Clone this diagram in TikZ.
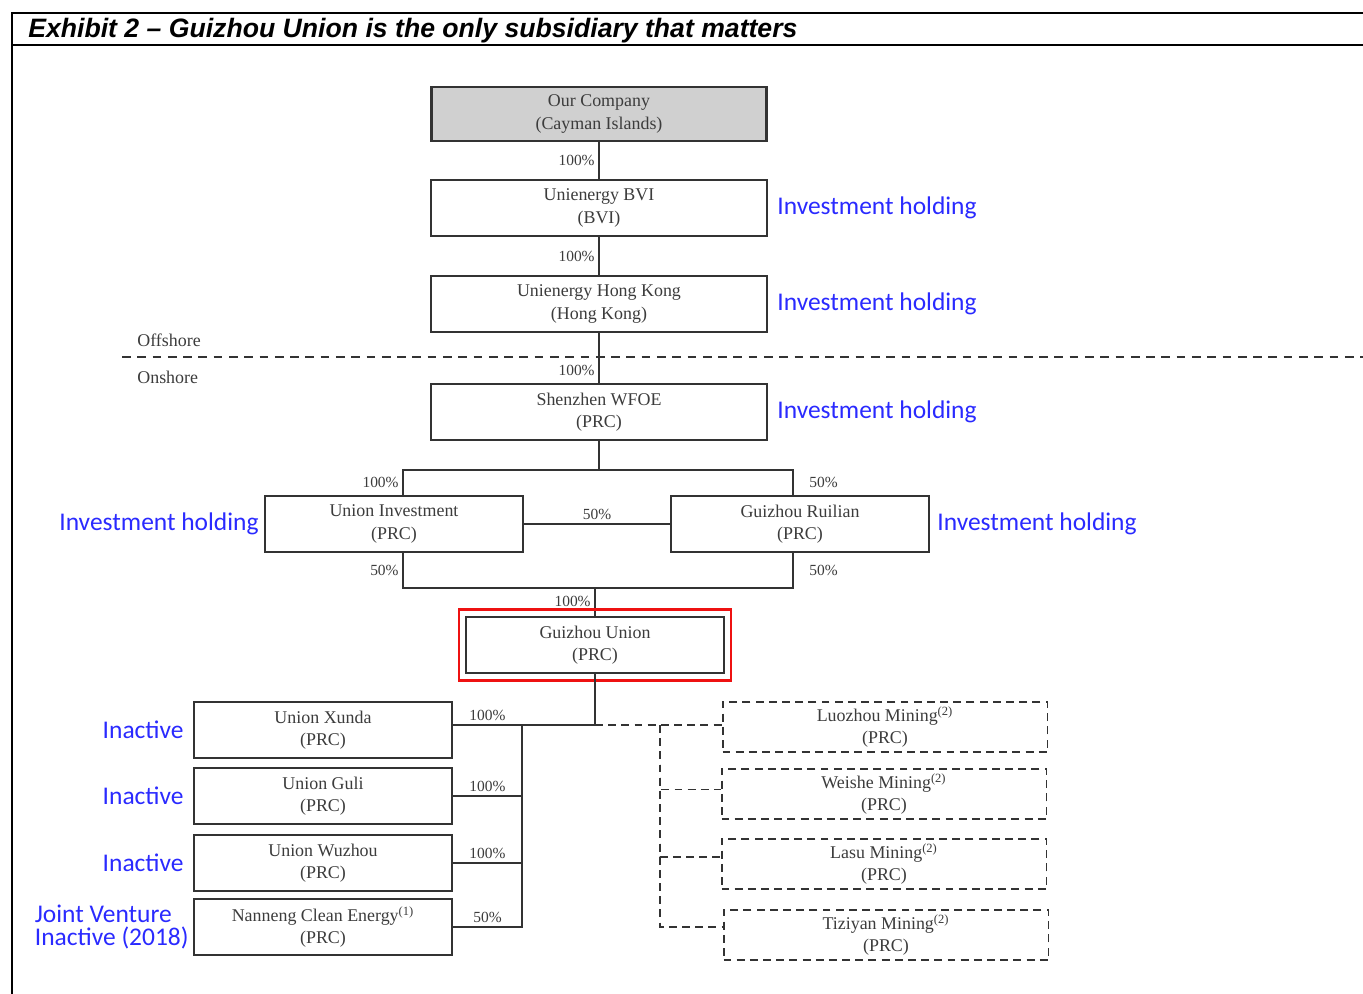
\documentclass[tikz,border=0pt]{standalone}
\usepackage{fontspec}
\setmainfont{Liberation Serif}
\newfontfamily\calibrifont{Carlito}
\newfontfamily\arialfont{Liberation Sans}
\usepackage{xcolor}
\usetikzlibrary{positioning,fit}
\definecolor{linegray}{HTML}{333333}
\definecolor{textgray}{HTML}{3C3C3C}
\definecolor{headgray}{HTML}{D0D0D0}
\definecolor{noteblue}{HTML}{2A2AFF}
\definecolor{framered}{HTML}{EE1111}
\newcommand{\boxsize}{\fontsize{10.2}{12.6}\selectfont}
\newcommand{\pctsize}{\fontsize{8.8}{10}\selectfont}
\newcommand{\notesize}{\calibrifont\fontsize{14.5}{13.2}\selectfont}
\tikzset{
  ent/.style    ={rectangle, draw=linegray, line width=1.2pt, fill=white,
                  text=textgray, font=\boxsize, align=center, inner sep=0pt,
                  minimum width=6.72cm, minimum height=1.13cm},
  headent/.style={ent, fill=headgray, minimum width=6.7cm, minimum height=1.08cm},
  pairent/.style={ent, minimum width=5.16cm},
  mineent/.style={ent, line width=1.1pt, dash pattern=on 4.5pt off 3pt,
                  minimum width=6.5cm, minimum height=1.0cm},
  con/.style    ={draw=linegray, line width=1pt},
  wk/.style     ={con, dash pattern=on 4.5pt off 3pt},
  pct/.style    ={font=\pctsize, text=textgray, inner sep=2pt},
  note/.style   ={font=\notesize, text=noteblue, inner sep=0pt, align=left},
  zone/.style   ={font=\boxsize, text=textgray, inner sep=0pt, anchor=west},
  hot/.style    ={draw=framered, line width=1.5pt, inner sep=0.12cm},
}
\begin{document}
\begin{tikzpicture}[x=0.02cm, y=-0.02cm]
\useasboundingbox (0,0) rectangle (1363,994);
% frame and heading
\draw[line width=1.7pt] (1363,13) -- (12,13) -- (12,994);
\draw[line width=1.7pt] (12,45) -- (1363,45);
\node[anchor=base west, inner sep=0pt, font=\arialfont\bfseries\itshape\fontsize{15.15}{18}\selectfont]
  (title) at (28,37) {Exhibit 2 – Guizhou Union is the only subsidiary that matters};
% offshore / onshore divide
\draw[linegray, line width=1.3pt, dash pattern=on 5pt off 3.7pt] (122,357) -- (1363,357);
\node[zone] (offs) at (137,340) {Offshore};
\node[zone] (ons)  at (137,377) {Onshore};
% holding chain
\node[headent] (ourco)  at (599,114) {Our Company\\(Cayman Islands)};
\node[ent]     (bvi)    at (599,208) {Unienergy BVI\\(BVI)};
\node[ent]     (hk)     at (599,304) {Unienergy Hong Kong\\(Hong Kong)};
\node[ent]     (wfoe)   at (599,412) {Shenzhen WFOE\\(PRC)};
\node[pairent] (uinv)   at (394,524) {Union Investment\\(PRC)};
\node[pairent] (ruil)   at (800,524) {Guizhou Ruilian\\(PRC)};
\node[pairent] (gunion) at (595,645) {Guizhou Union\\(PRC)};
\draw[con] (ourco) -- node[pct,left] {100\%} (bvi);
\draw[con] (bvi)   -- node[pct,left] {100\%} (hk);
\draw[con] (hk)    -- node[pct,left,pos=0.75] {100\%} (wfoe);
\coordinate (wsplit) at (599,470);
\coordinate (gsplit) at (595,588);
\draw[con] (wfoe) -- (wsplit);
\draw[con] (wsplit) -| node[pct,left,pos=0.75] {100\%} ([xshift=0.18cm]uinv.north);
\draw[con] (wsplit) -| node[pct,right,pos=0.75,xshift=0.24cm] {50\%} ([xshift=-0.14cm]ruil.north);
\draw[con] (uinv) -- node[pct,above] {50\%} (ruil);
\draw[con] (gsplit) -| node[pct,left,pos=0.75] {50\%} ([xshift=0.18cm]uinv.south);
\draw[con] (gsplit) -| node[pct,right,pos=0.75,xshift=0.24cm] {50\%} ([xshift=-0.14cm]ruil.south);
\draw[con] (gsplit) -- node[pct,left] {100\%} (gunion);
\node[hot, fit=(gunion)] (gframe) {};
% subsidiaries of Guizhou Union
\node[pairent] (xunda)   at (323,730) {Union Xunda\\(PRC)};
\node[pairent] (guli)    at (323,796) {Union Guli\\(PRC)};
\node[pairent] (wuzhou)  at (323,863) {Union Wuzhou\\(PRC)};
\node[pairent] (nanneng) at (323,927) {Nanneng Clean Energy\textsuperscript{(1)}\\(PRC)};
\node[mineent] (luozhou) at (885,727) {Luozhou Mining\textsuperscript{(2)}\\(PRC)};
\node[mineent] (weishe)  at (884,794) {Weishe Mining\textsuperscript{(2)}\\(PRC)};
\node[mineent] (lasu)    at (884,864) {Lasu Mining\textsuperscript{(2)}\\(PRC)};
\node[mineent] (tiziyan) at (886,935) {Tiziyan Mining\textsuperscript{(2)}\\(PRC)};
\coordinate (gbus) at (595,725);
\coordinate (sbus) at (522,725);
\coordinate (mbus) at (660,725);
\draw[con] (gunion) -- (gbus);
\draw[con] (xunda.east |- gbus) -- node[pct,above] {100\%} (sbus) -- (gbus);
\draw[con] (sbus) |- node[pct,above,pos=0.75] {100\%} (guli.east);
\draw[con] (sbus) |- node[pct,above,pos=0.75] {100\%} (wuzhou.east);
\draw[con] (sbus) |- node[pct,above,pos=0.75] {50\%} (nanneng.east);
\draw[wk] (gbus) -- (luozhou.west |- gbus);
\draw[wk] (mbus) |- ([yshift=0.09cm]weishe.west);
\draw[wk] (mbus) |- ([yshift=0.14cm]lasu.west);
\draw[wk] (mbus) |- ([yshift=0.16cm]tiziyan.west);
% blue remarks
\node[note, right=0.18cm of bvi]    (bvinote)  {Investment holding};
\node[note, right=0.18cm of hk]     (hknote)   {Investment holding};
\node[note, right=0.18cm of wfoe]   (wfoenote) {Investment holding};
\node[note, left=0.1cm of uinv]     (uinvnote) {Investment holding};
\node[note, right=0.14cm of ruil]   (ruilnote) {Investment holding};
\node[note, left=0.18cm of xunda]   (xundanote) {Inactive};
\node[note, left=0.18cm of guli]    (gulinote)  {Inactive};
\node[note, left=0.18cm of wuzhou]  (wuzhounote) {Inactive};
\node[note, left=0.08cm of nanneng] (nannote)   {Joint Venture\\Inactive (2018)};
\end{tikzpicture}
\end{document}
